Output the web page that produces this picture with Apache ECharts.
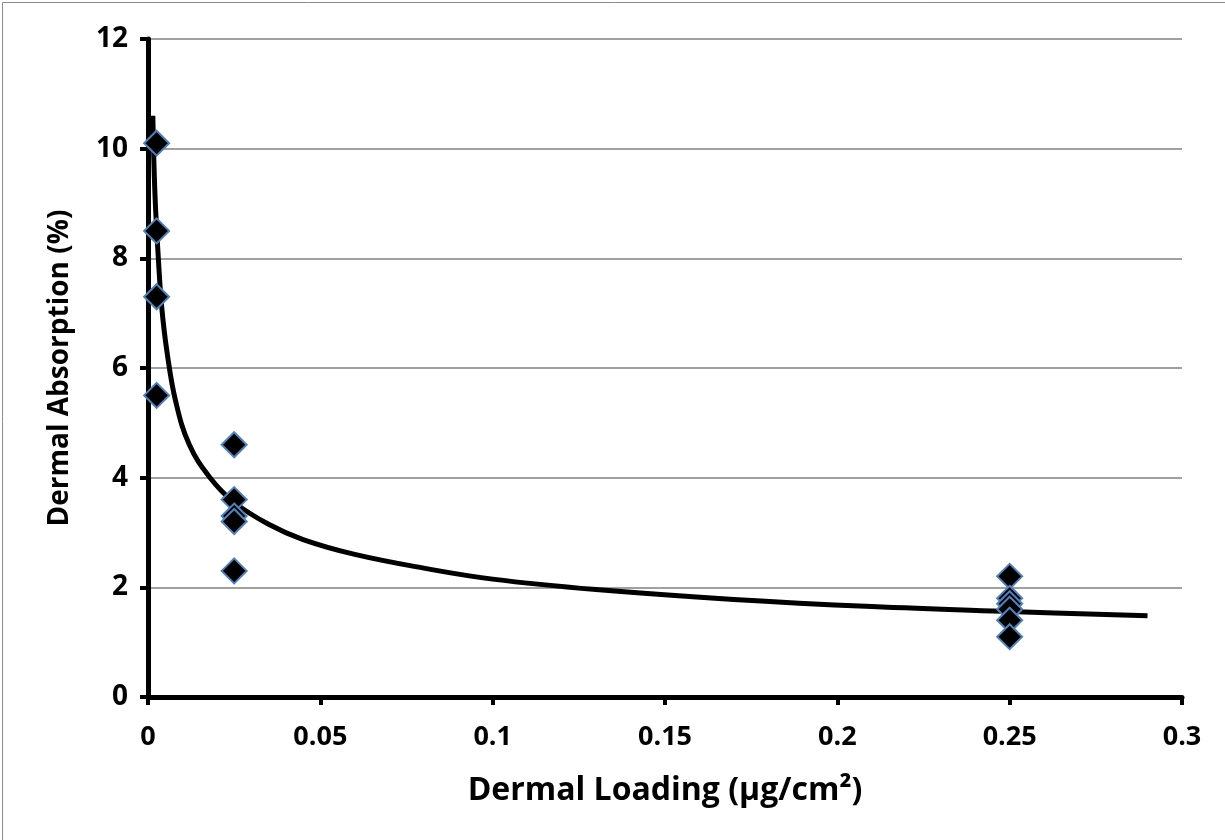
<!DOCTYPE html>
<html>
<head>
<meta charset="utf-8">
<script src="https://cdn.jsdelivr.net/npm/echarts@6/dist/echarts.min.js"></script>
<style>
html,body{margin:0;padding:0;background:#fff;}
#chart{width:1225px;height:840px;}
</style>
</head>
<body>
<div id="chart"></div>
<script>
// Observed data points (Dermal Loading µg/cm², Dermal Absorption %)
const loadingLow = [0.0025, 0.0025, 0.0025, 0.0025];
const absorptionLow = [10.1, 8.5, 7.3, 5.5];
const loadingMid = [0.025, 0.025, 0.025, 0.025, 0.025];
const absorptionMid = [4.6, 3.6, 3.3, 3.2, 2.3];
const loadingHigh = [0.25, 0.25, 0.25, 0.25, 0.25, 0.25];
const absorptionHigh = [2.2, 1.8, 1.7, 1.6, 1.4, 1.1];

// Trend curve
const curveX = [0.0014, 0.002, 0.003, 0.004, 0.0055, 0.008, 0.012, 0.018, 0.025, 0.035, 0.045, 0.06, 0.08, 0.1, 0.13, 0.17, 0.21, 0.25, 0.29];
const curveY = [10.6, 9.2, 8.0, 7.1, 6.3, 5.4, 4.6, 4.0, 3.55, 3.15, 2.87, 2.6, 2.35, 2.15, 1.96, 1.78, 1.65, 1.56, 1.48];

const xTicks = [0, 0.05, 0.1, 0.15, 0.2, 0.25, 0.3];
const yTicks = [0, 2, 4, 6, 8, 10, 12];

const pts = [];
[[loadingLow, absorptionLow], [loadingMid, absorptionMid], [loadingHigh, absorptionHigh]].forEach(([xs, ys]) => {
  xs.forEach((x, i) => pts.push([x, ys[i]]));
});
const curve = curveX.map((x, i) => [x, curveY[i]]);

const FONT = '"Open Sans", "DejaVu Sans", sans-serif';
const chart = echarts.init(document.getElementById('chart'));
chart.setOption({
  backgroundColor: '#fff',
  animation: false,
  graphic: [{
    type: 'rect', left: 0, top: 0, z: -10,
    shape: { x: 0.5, y: 0.5, width: 1224, height: 839 },
    style: { fill: 'none', stroke: '#8c8c8c', lineWidth: 1 }
  }],
  grid: { left: 148, right: 43, top: 39, bottom: 143 },
  xAxis: {
    type: 'value', min: 0, max: 0.3, interval: 0.05,
    name: 'Dermal Loading (μg/cm²)', nameLocation: 'middle', nameGap: 78,
    nameTextStyle: { fontFamily: FONT, fontWeight: 700, fontSize: 32, color: '#000' },
    axisLine: { show: true, onZero: false, lineStyle: { color: '#000', width: 5 } },
    axisTick: { show: true, length: 8, lineStyle: { color: '#000', width: 4 } },
    axisLabel: { fontFamily: FONT, fontWeight: 700, fontSize: 27, color: '#000', margin: 27,
      formatter: v => String(+v.toFixed(2)) },
    splitLine: { show: false }
  },
  yAxis: {
    type: 'value', min: 0, max: 12, interval: 2,
    name: 'Dermal Absorption (%)', nameLocation: 'middle', nameGap: 74,
    nameTextStyle: { fontFamily: FONT, fontWeight: 700, fontSize: 28, color: '#000' },
    axisLine: { show: true, onZero: false, lineStyle: { color: '#000', width: 5 } },
    axisTick: { show: true, length: 8, lineStyle: { color: '#000', width: 4 } },
    axisLabel: { fontFamily: FONT, fontWeight: 700, fontSize: 28, color: '#000', margin: 20 },
    splitLine: { show: true, lineStyle: { color: '#a0a0a0', width: 2 } }
  },
  series: [
    {
      type: 'line', data: curve, smooth: 0.4, showSymbol: false, symbol: 'none',
      lineStyle: { color: '#000', width: 5 }, z: 2, clip: true
    },
    {
      type: 'scatter', data: pts, symbol: 'diamond', symbolSize: 25,
      itemStyle: { color: '#000', borderColor: '#4f81bd', borderWidth: 2, opacity: 1 }, z: 3
    }
  ]
});
</script>
</body>
</html>
